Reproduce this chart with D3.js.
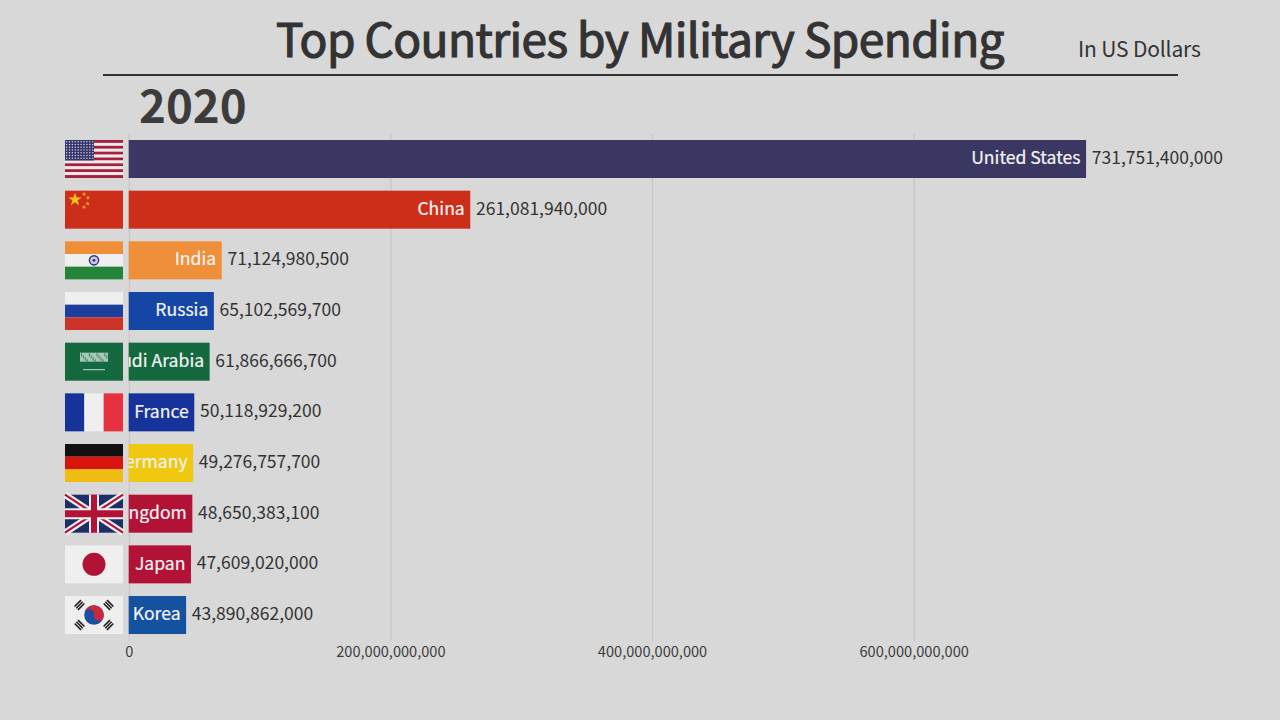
<!DOCTYPE html>
<html>
<head>
	<meta charset="utf-8">
	<title>Top Countries by Military Spending</title>
	<script src="https://cdn.jsdelivr.net/npm/d3@7/dist/d3.min.js"></script>
	<style>
		html, body { margin: 0; padding: 0; background: #d8d8d8; }
		svg { display: block; }
		text { font-family: "Noto Sans CJK KR", "Noto Sans", sans-serif; }
	</style>
</head>
<body>
<svg id="chart" width="1280" height="720"></svg>

<script type="text/javascript">
	// values
	const countries = ["United States", "China", "India", "Russia", "Saudi Arabia", "France", "Germany", "United Kingdom", "Japan", "South Korea"];
	const spending = [731751400000, 261081940000, 71124980500, 65102569700, 61866666700, 50118929200, 49276757700, 48650383100, 47609020000, 43890862000];
	const barColors = ["#3a3862", "#cc2e1a", "#ef8f3a", "#1546a6", "#14693f", "#15339a", "#f0c810", "#b31237", "#b31237", "#14519f"];
	const tickValues = [0, 200000000000, 400000000000, 600000000000];

	const svg = d3.select("#chart");
	const rows = countries.map((c, i) => ({ country: c, value: spending[i], color: barColors[i] }));

	const x = d3.scaleLinear().domain([0, 600000000000]).range([128.7, 913.7]);
	const y = d3.scaleBand().domain(countries).range([127.33, 646.7]).padding(0.25);
	const flagX = 65, flagW = 58;

	// grid + tick labels
	const axis = d3.axisBottom(x).tickValues(tickValues).tickFormat(d3.format(",")).tickSize(-507).tickPadding(6);
	const axisG = svg.append("g").attr("transform", "translate(0,641)").call(axis);
	axisG.select(".domain").remove();
	axisG.selectAll("line").attr("stroke", "#c6c6c6").attr("stroke-width", 1.2);
	axisG.selectAll("text").attr("font-size", 14.6).attr("fill", "#3c3c3c");

	// title block
	svg.append("text").attr("x", 640).attr("y", 57).attr("text-anchor", "middle")
		.attr("font-size", 46).attr("letter-spacing", -0.58)
		.attr("stroke", "#333").attr("stroke-width", 1.2)
		.attr("fill", "#333").text("Top Countries by Military Spending");
	svg.append("text").attr("x", 1078).attr("y", 57).attr("letter-spacing", -0.15)
		.attr("font-size", 21).attr("fill", "#333").text("In US Dollars");
	svg.append("line").attr("x1", 103).attr("x2", 1178).attr("y1", 75).attr("y2", 75)
		.attr("stroke", "#333").attr("stroke-width", 2);
	svg.append("text").attr("x", 139).attr("y", 123)
		.attr("font-size", 45.6).attr("font-weight", 700).attr("fill", "#3c3c3c").text("2020");

	// labels get cut off at the zero line when the bar is too short
	svg.append("clipPath").attr("id", "barClip").append("rect")
		.attr("x", x(0)).attr("y", 0).attr("width", 1151).attr("height", 720);

	svg.append("g").selectAll("rect").data(rows).join("rect")
		.attr("x", x(0))
		.attr("y", d => y(d.country))
		.attr("width", d => x(d.value) - x(0))
		.attr("height", y.bandwidth())
		.attr("fill", d => d.color);

	svg.append("g").attr("clip-path", "url(#barClip)").selectAll("text").data(rows).join("text")
		.attr("x", d => x(d.value) - 5.5)
		.attr("y", d => y(d.country) + y.bandwidth() / 2 - 1)
		.attr("dy", "0.35em")
		.attr("text-anchor", "end")
		.attr("font-size", 17.6)
		.attr("stroke", "#f4f4f4").attr("stroke-width", 0.2)
		.attr("fill", "#f4f4f4")
		.text(d => d.country);

	svg.append("g").selectAll("text").data(rows).join("text")
		.attr("x", d => x(d.value) + 5.7)
		.attr("y", d => y(d.country) + y.bandwidth() / 2 - 1)
		.attr("dy", "0.35em")
		.attr("font-size", 17.5)
		.attr("fill", "#333")
		.text(d => d3.format(",")(d.value));

	// flags
	const flagH = y.bandwidth();
	const painters = {
		"United States": usFlag,
		"China": chinaFlag,
		"India": indiaFlag,
		"Russia": g => bands(g, ["#efefef", "#1c3f9e", "#cc3329"], true),
		"Saudi Arabia": saudiFlag,
		"France": g => bands(g, ["#15339a", "#efefef", "#e63240"], false),
		"Germany": g => bands(g, ["#111111", "#d8140c", "#f0bc12"], true),
		"United Kingdom": ukFlag,
		"Japan": japanFlag,
		"South Korea": koreaFlag
	};

	svg.append("g").selectAll("g").data(rows).join("g")
		.attr("transform", d => `translate(${flagX},${y(d.country)})`)
		.each(function (d) { painters[d.country](d3.select(this)); });

	function box(g, bx, by, w, h, fill) {
		return g.append("rect").attr("x", bx).attr("y", by).attr("width", w).attr("height", h).attr("fill", fill);
	}

	function bands(g, colors, horizontal) {
		colors.forEach((c, i) => {
			if (horizontal) box(g, 0, i * flagH / 3, flagW, flagH / 3, c);
			else box(g, i * flagW / 3, 0, flagW / 3, flagH, c);
		});
	}

	function usFlag(g) {
		d3.range(13).forEach(i => box(g, 0, i * flagH / 13, flagW, flagH / 13, i % 2 ? "#efe9ea" : "#a5203f"));
		box(g, 0, 0, flagW * 0.5, flagH * 7 / 13, "#35346a");
		d3.range(7).forEach(r => d3.range(10).forEach(c => {
			g.append("circle").attr("cx", 1.6 + c * 2.9).attr("cy", 1.7 + r * 2.75).attr("r", 0.8).attr("fill", "#c8c8dc");
		}));
	}

	function star(g, cx, cy, size, rot, fill) {
		g.append("path").attr("d", d3.symbol(d3.symbolStar, size)())
			.attr("transform", `translate(${cx},${cy}) rotate(${rot})`).attr("fill", fill);
	}

	function chinaFlag(g) {
		box(g, 0, 0, flagW, flagH, "#cc2e1a");
		star(g, 10, 9, 55, 0, "#f6c21c");
		[[19, 3.5, 15], [23, 7, 40], [22.7, 13, 5], [19, 16.5, 20]].forEach(s => star(g, s[0], s[1], 7, s[2], "#f0a030"));
	}

	function indiaFlag(g) {
		bands(g, ["#ef8f3a", "#efefef", "#23843a"], true);
		g.append("circle").attr("cx", flagW / 2).attr("cy", flagH / 2).attr("r", 4.6)
			.attr("fill", "#c9c9e4").attr("stroke", "#2f2f80").attr("stroke-width", 1.4);
		g.append("circle").attr("cx", flagW / 2).attr("cy", flagH / 2).attr("r", 1.4).attr("fill", "#2f2f80");
	}

	function saudiFlag(g) {
		box(g, 0, 0, flagW, flagH, "#14693f");
		box(g, 15, 10, 28, 9, "#a9c9b4");
		d3.range(14).forEach(i => box(g, 16 + i * 1.95, 10.5 + (i % 4) * 2, 0.9, 3.4, "#2f7c55"));
		box(g, 18, 26.5, 22, 1, "#c4dccb");
	}

	function ukFlag(g) {
		box(g, 0, 0, flagW, flagH, "#1d2f66");
		const cross = (x1, y1, x2, y2, c, w) => g.append("line")
			.attr("x1", x1).attr("y1", y1).attr("x2", x2).attr("y2", y2).attr("stroke", c).attr("stroke-width", w);
		cross(0, 0, flagW, flagH, "#efefef", 6.5);
		cross(0, flagH, flagW, 0, "#efefef", 6.5);
		cross(0, 0, flagW, flagH, "#b31237", 2.2);
		cross(0, flagH, flagW, 0, "#b31237", 2.2);
		cross(flagW / 2, 0, flagW / 2, flagH, "#efefef", 10);
		cross(0, flagH / 2, flagW, flagH / 2, "#efefef", 11);
		cross(flagW / 2, 0, flagW / 2, flagH, "#b31237", 6);
		cross(0, flagH / 2, flagW, flagH / 2, "#b31237", 7);
	}

	function japanFlag(g) {
		box(g, 0, 0, flagW, flagH, "#efefef");
		g.append("circle").attr("cx", flagW / 2).attr("cy", flagH / 2).attr("r", 11.5).attr("fill", "#b31237");
	}

	function koreaFlag(g) {
		box(g, 0, 0, flagW, flagH, "#efefef");
		const cx = flagW / 2, cy = flagH / 2, r = 9.8;
		g.append("circle").attr("cx", cx).attr("cy", cy).attr("r", r).attr("fill", "#1c4fa0");
		g.append("path").attr("fill", "#c8283c")
			.attr("d", `M${cx - r},${cy} A${r},${r} 0 0 1 ${cx + r},${cy} A${r / 2},${r / 2} 0 0 1 ${cx},${cy} A${r / 2},${r / 2} 0 0 0 ${cx - r},${cy} Z`)
			.attr("transform", `rotate(10 ${cx} ${cy})`);
		[[-1, -1], [1, -1], [-1, 1], [1, 1]].forEach(s => {
			const t = g.append("g").attr("transform", `translate(${cx + s[0] * 14.5},${cy + s[1] * 10}) rotate(${-s[0] * s[1] * 45})`);
			d3.range(3).forEach(i => box(t, -4.5, -3.2 + i * 2.4, 9, 1.5, "#1a1a1a"));
		});
	}
</script>
</body>
</html>
